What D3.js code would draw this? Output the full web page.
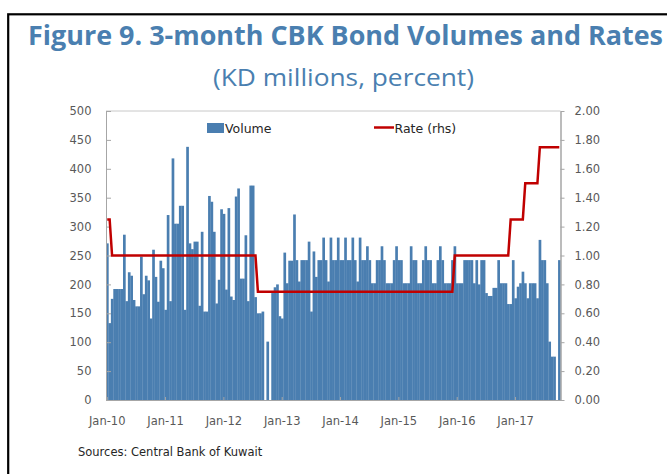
<!DOCTYPE html>
<html>
<head>
<meta charset="utf-8">
<title>Figure 9. 3-month CBK Bond Volumes and Rates</title>
<script src="https://cdn.jsdelivr.net/npm/d3@7"></script>
<style>
  body { margin: 0; background: white; }
  svg { display: block; }
  .axis text { font-family: "DejaVu Sans", sans-serif; font-size: 11.5px; fill: #595959; }
  .axis path, .axis line { stroke: #a6a6a6; }
</style>
</head>
<body>
<script>
// volumes (KD millions), two auctions per month, Jan-10 .. Oct-17
var vol2010 = [271,133,175,192,192,192,192,286,171,221,215,173,162,162,248,183,215,207,141,260,213,170,241,228];
var vol2011 = [156,320,171,418,305,305,336,336,156,438,271,261,274,274,163,291,153,153,353,343,291,167,208,330];
var vol2012 = [322,191,332,179,173,352,366,210,210,285,171,371,371,178,150,150,153,0,101,0,185,195,200,145];
var vol2013 = [141,255,202,241,241,321,242,205,242,242,242,274,153,257,213,242,242,281,242,205,281,242,242,281];
var vol2014 = [242,242,281,242,242,281,242,205,281,242,242,266,242,202,202,242,242,266,242,202,202,202,242,266];
var vol2015 = [242,242,202,202,202,266,242,242,202,202,242,266,242,242,202,202,242,266,242,202,202,202,242,266];
var vol2016 = [202,202,202,242,242,242,242,202,242,200,242,242,185,180,180,194,194,242,202,202,202,166,166,242];
var vol2017 = [176,196,202,222,202,176,202,202,202,176,277,242,242,202,101,75,75,0,242];

// rate (percent): period index where each level starts
var rateStart = [0, 2, 62, 143, 166, 172, 178];
var rateValues = [1.25, 1.00, 0.75, 1.00, 1.25, 1.50, 1.75];

var volTicks = [0,50,100,150,200,250,300,350,400,450,500];
var rateTicks = [0,0.2,0.4,0.6,0.8,1.0,1.2,1.4,1.6,1.8,2.0];
var xLabels = ["Jan-10","Jan-11","Jan-12","Jan-13","Jan-14","Jan-15","Jan-16","Jan-17"];

var volumes = [].concat(vol2010, vol2011, vol2012, vol2013, vol2014, vol2015, vol2016, vol2017);
var n = volumes.length;

var width = 667, height = 474;
var plotL = 106, plotR = 560.5, plotT = 111, plotB = 400;
var blue = "#4a7eb0", red = "#c00000";

var svg = d3.select("body").append("svg")
    .attr("width", width)
    .attr("height", height);

// outer frame
svg.append("rect")
    .attr("x", 8.2).attr("y", 14.3)
    .attr("width", 720).attr("height", 520)
    .attr("fill", "none").attr("stroke", "#000").attr("stroke-width", 2.2);

svg.append("text")
    .attr("x", 345.5).attr("y", 45)
    .attr("text-anchor", "middle")
    .attr("textLength", 635).attr("lengthAdjust", "spacingAndGlyphs")
    .style("font-family", "'Open Sans', sans-serif")
    .style("font-weight", "bold").style("font-size", "26.5px")
    .style("fill", "#4a7fb0")
    .text("Figure 9. 3-month CBK Bond Volumes and Rates");

svg.append("text")
    .attr("x", 343.5).attr("y", 86)
    .attr("text-anchor", "middle")
    .attr("textLength", 261).attr("lengthAdjust", "spacingAndGlyphs")
    .style("font-family", "'Open Sans', sans-serif")
    .style("font-size", "24.5px")
    .style("fill", "#4a7fb0")
    .text("(KD millions, percent)");

var x = d3.scaleBand().domain(d3.range(n)).range([plotL, plotR]).padding(0);
var yL = d3.scaleLinear().domain([0, 500]).range([plotB, plotT]);
var yR = d3.scaleLinear().domain([0, 2]).range([plotB, plotT]);

// top border of plot area
svg.append("line").attr("x1", plotL).attr("x2", plotR).attr("y1", plotT).attr("y2", plotT)
    .attr("stroke", "#c8c8c8");

svg.selectAll(".bar").data(volumes).enter().append("rect")
    .attr("class", "bar")
    .attr("x", function(d, i) { return x(i); })
    .attr("width", x.bandwidth() + 0.25)
    .attr("y", function(d) { return yL(d); })
    .attr("height", function(d) { return plotB - yL(d); })
    .attr("fill", blue);

// left axis, ticks inside
svg.append("g").attr("class", "axis")
    .attr("transform", "translate(" + plotL + ",0)")
    .call(d3.axisLeft(yL).tickValues(volTicks).tickSize(-5).tickPadding(14.5).tickSizeOuter(0));

// right axis
var gR = svg.append("g").attr("class", "axis")
    .attr("transform", "translate(" + plotR + ",0)")
    .call(d3.axisRight(yR).tickValues(rateTicks).tickSize(4).tickPadding(10)
        .tickSizeOuter(0).tickFormat(d3.format(".2f")));
gR.select(".domain").attr("stroke", "#8c8c8c").attr("stroke-width", 1.5);

// bottom axis
var janIdx = xLabels.map(function(d, k) { return k * 24; });
svg.append("g").attr("class", "axis")
    .attr("transform", "translate(0," + plotB + ")")
    .call(d3.axisBottom(x).tickValues(janIdx).tickSize(-3).tickPadding(16.5).tickSizeOuter(0)
        .tickFormat(function(d) { return xLabels[d / 24]; }));

// rate line
var ratePts = [];
rateStart.forEach(function(s, k) {
    var e = k < rateStart.length - 1 ? rateStart[k + 1] - 1 : n - 1;
    ratePts.push([s, rateValues[k]]);
    ratePts.push([e, rateValues[k]]);
});
var line = d3.line()
    .x(function(d) { return x(d[0]) + x.bandwidth() / 2; })
    .y(function(d) { return yR(d[1]); });
svg.append("path").datum(ratePts)
    .attr("d", line)
    .attr("fill", "none").attr("stroke", red).attr("stroke-width", 2.5);

// legend
var lg = svg.append("g").style("font-family", "'DejaVu Sans', sans-serif").style("font-size", "12.5px");
lg.append("rect").attr("x", 207).attr("y", 123).attr("width", 17).attr("height", 10).attr("fill", blue);
lg.append("text").attr("x", 225).attr("y", 133).attr("fill", "#262626").text("Volume");
lg.append("line").attr("x1", 374).attr("x2", 394).attr("y1", 127.5).attr("y2", 127.5)
    .attr("stroke", red).attr("stroke-width", 2.5);
lg.append("text").attr("x", 394.5).attr("y", 133).attr("fill", "#262626").text("Rate (rhs)");

svg.append("text")
    .attr("x", 78).attr("y", 456)
    .style("font-family", "'DejaVu Sans', sans-serif").style("font-size", "11.5px")
    .style("fill", "#262626")
    .text("Sources: Central Bank of Kuwait");
</script>
</body>
</html>
